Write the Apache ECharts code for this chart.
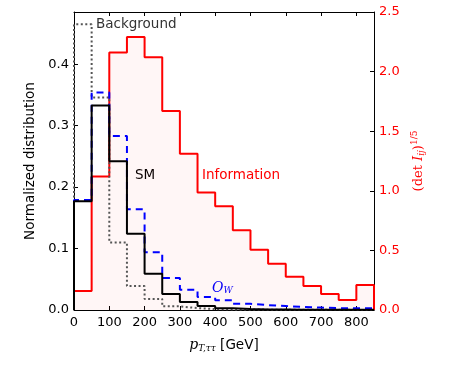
<!DOCTYPE html>
<html>
<head>
    <meta charset="utf-8" />
    <title>pT distribution</title>
    <script src="https://cdn.jsdelivr.net/npm/echarts@6/dist/echarts.min.js"></script>
    <style type="text/css">
        html, body { margin: 0; padding: 0; background: #fff; }
        #chart { width: 449px; height: 374px; }
    </style>
</head>
<body>
    <div id="chart"></div>
    <script>
        // bin edges in GeV (50 GeV bins)
        const binEdges = [0, 50, 100, 150, 200, 250, 300, 350, 400, 450, 500, 550, 600, 650, 700, 750, 800, 850];
        const xTicks = [0, 100, 200, 300, 400, 500, 600, 700, 800];

        // normalized distributions (left axis)
        const smValues = [0.177, 0.333, 0.242, 0.124, 0.059, 0.026, 0.013, 0.0065, 0.003, 0.0015, 0.001, 0.0008, 0.0006, 0.0005, 0.0004, 0.0003, 0.0003];
        const owValues = [0.179, 0.354, 0.283, 0.164, 0.094, 0.052, 0.033, 0.021, 0.016, 0.010, 0.008, 0.0065, 0.005, 0.004, 0.003, 0.003, 0.003];
        const bkgValues = [0.465, 0.346, 0.110, 0.039, 0.018, 0.006, 0.003, 0.0015, 0.001, 0.0008, 0.0006, 0.0005, 0.0004, 0.0003, 0.0003, 0.0002, 0.0002];

        // (det I_ij)^(1/5) (right axis)
        const infoValues = [0.16, 1.12, 2.16, 2.29, 2.12, 1.67, 1.31, 0.985, 0.87, 0.67, 0.505, 0.387, 0.278, 0.202, 0.135, 0.084, 0.21];

        // turn bin contents into a step outline
        function steps(vals) {
            const pts = [[binEdges[0], 0]];
            vals.forEach((v, i) => {
                pts.push([binEdges[i], v]);
                pts.push([binEdges[i + 1], v]);
            });
            pts.push([binEdges[binEdges.length - 1], 0]);
            return pts;
        }

        const chart = echarts.init(document.getElementById('chart'));
        const font = 'DejaVu Sans';
        const spine = { show: true, onZero: false, lineStyle: { color: '#000', width: 1 } };
        const ticks = { inside: true, length: 4, lineStyle: { color: '#000' } };

        const option = {
            animation: false,
            grid: { left: 74, right: 75, top: 12, bottom: 64 },
            xAxis: [
                {
                    type: 'value', min: 0, max: 850, interval: 100,
                    name: '{i|p}{s|T,ττ}{n| [GeV]}',
                    nameLocation: 'middle', nameGap: 28,
                    nameTextStyle: {
                        rich: {
                            i: { fontFamily: 'DejaVu Serif', fontStyle: 'italic', fontSize: 14, color: '#000' },
                            s: { fontFamily: 'DejaVu Serif', fontStyle: 'italic', fontSize: 9, color: '#000', padding: [6, 0, 0, 0] },
                            n: { fontFamily: font, fontSize: 13.5, color: '#000' }
                        }
                    },
                    axisLine: spine,
                    axisTick: ticks,
                    axisLabel: {
                        fontFamily: font, fontSize: 13, color: '#000', margin: 6,
                        formatter: v => xTicks.includes(v) ? String(v) : ''
                    },
                    splitLine: { show: false }
                },
                {
                    type: 'value', min: 0, max: 850, interval: 100, position: 'top',
                    axisLine: spine,
                    axisTick: ticks,
                    axisLabel: { show: false },
                    splitLine: { show: false }
                }
            ],
            yAxis: [
                {
                    type: 'value', min: 0, max: 0.485, interval: 0.1,
                    name: 'Normalized distribution',
                    nameLocation: 'middle', nameGap: 34,
                    nameTextStyle: { fontFamily: font, fontSize: 13.5, color: '#000' },
                    axisLine: spine,
                    axisTick: ticks,
                    axisLabel: {
                        fontFamily: font, fontSize: 13, color: '#000', margin: 5,
                        formatter: v => Math.abs(v * 10 - Math.round(v * 10)) < 1e-6 ? v.toFixed(1) : ''
                    },
                    splitLine: { show: false }
                },
                {
                    type: 'value', min: 0, max: 2.5, interval: 0.5, position: 'right',
                    name: '{a|(det }{i|I}{s|ij}{a|)}{p|1/5}',
                    nameLocation: 'middle', nameGap: 34, nameRotate: 90,
                    nameTextStyle: {
                        rich: {
                            a: { fontFamily: 'DejaVu Serif', fontSize: 13, color: '#f00' },
                            i: { fontFamily: 'DejaVu Serif', fontStyle: 'italic', fontSize: 13, color: '#f00' },
                            s: { fontFamily: 'DejaVu Serif', fontStyle: 'italic', fontSize: 9, color: '#f00', padding: [6, 0, 0, 0] },
                            p: { fontFamily: 'DejaVu Serif', fontSize: 9, color: '#f00', padding: [0, 0, 8, 0] }
                        }
                    },
                    axisLine: spine,
                    axisTick: ticks,
                    axisLabel: {
                        fontFamily: font, fontSize: 13, color: '#f00', margin: 5,
                        formatter: v => v.toFixed(1)
                    },
                    splitLine: { show: false }
                }
            ],
            series: [
                {
                    name: 'Information', type: 'line', yAxisIndex: 1,
                    data: steps(infoValues), showSymbol: false, z: 1,
                    lineStyle: { color: '#ff0000', width: 2 },
                    areaStyle: { color: 'rgba(255,0,0,0.05)' }
                },
                {
                    name: 'Background', type: 'line', yAxisIndex: 0,
                    data: steps(bkgValues), showSymbol: false, z: 2,
                    lineStyle: { color: '#555', width: 2, type: [2, 2.5] }
                },
                {
                    name: 'O_W', type: 'line', yAxisIndex: 0,
                    data: steps(owValues), showSymbol: false, z: 3,
                    lineStyle: { color: '#0000ff', width: 2, type: [7, 5] }
                },
                {
                    name: 'SM', type: 'line', yAxisIndex: 0,
                    data: steps(smValues), showSymbol: false, z: 4,
                    lineStyle: { color: '#000', width: 2 }
                }
            ],
            graphic: [
                {
                    type: 'text', left: 96, top: 17,
                    style: { text: 'Background', fontFamily: font, fontSize: 13.5, fill: '#333' }
                },
                {
                    type: 'text', left: 135, top: 168,
                    style: { text: 'SM', fontFamily: font, fontSize: 13.5, fill: '#000' }
                },
                {
                    type: 'text', left: 202, top: 168,
                    style: { text: 'Information', fontFamily: font, fontSize: 13.5, fill: '#f00' }
                },
                {
                    type: 'text', left: 212, top: 281,
                    style: {
                        text: '{o|O}{w|W}',
                        rich: {
                            o: { fontFamily: 'DejaVu Serif', fontStyle: 'italic', fontSize: 14, fill: '#0000ff' },
                            w: { fontFamily: 'DejaVu Serif', fontStyle: 'italic', fontSize: 9, fill: '#0000ff', padding: [6, 0, 0, 0] }
                        }
                    }
                }
            ]
        };

        chart.setOption(option);
    </script>
</body>
</html>
